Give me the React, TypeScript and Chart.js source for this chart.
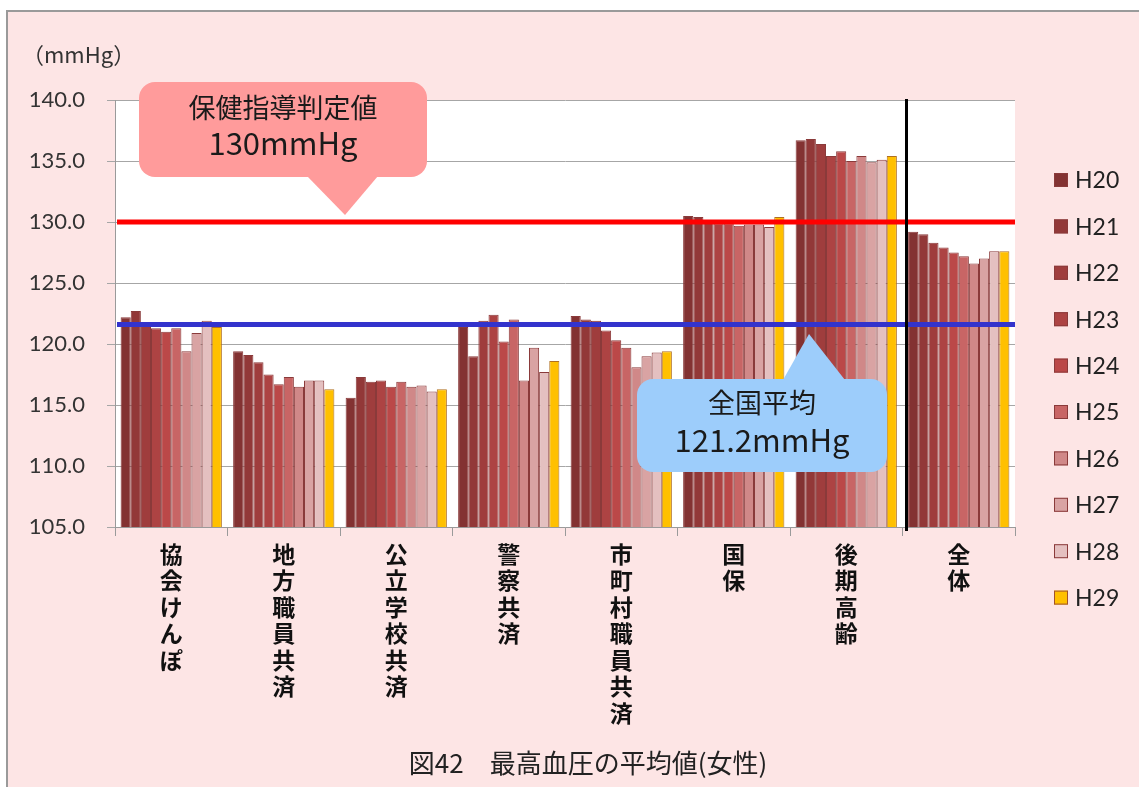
import React, { useEffect, useRef } from 'react';
import { Chart, registerables } from 'chart.js';

Chart.register(...registerables);

// ---- data ----
const categories: string[][] = [
  ['協', '会', 'け', 'ん', 'ぽ'],
  ['地', '方', '職', '員', '共', '済'],
  ['公', '立', '学', '校', '共', '済'],
  ['警', '察', '共', '済'],
  ['市', '町', '村', '職', '員', '共', '済'],
  ['国', '保'],
  ['後', '期', '高', '齢'],
  ['全', '体'],
];

const seriesNames = ['H20', 'H21', 'H22', 'H23', 'H24', 'H25', 'H26', 'H27', 'H28', 'H29'];
const seriesColors = ['#833232', '#923838', '#9f3d3d', '#ad4343', '#bb4848', '#c86565', '#d08888', '#d9a3a3', '#e4c0c0', '#ffc000'];

const H20 = [122.2, 119.4, 115.6, 121.4, 122.3, 130.5, 136.7, 129.2];
const H21 = [122.7, 119.1, 117.3, 119.0, 122.0, 130.4, 136.8, 129.0];
const H22 = [121.6, 118.5, 116.9, 121.9, 121.9, 130.0, 136.4, 128.3];
const H23 = [121.3, 117.5, 117.0, 122.4, 121.1, 129.9, 135.4, 127.9];
const H24 = [121.0, 116.7, 116.5, 120.2, 120.3, 129.9, 135.8, 127.5];
const H25 = [121.3, 117.3, 116.9, 122.0, 119.7, 129.7, 135.0, 127.2];
const H26 = [119.4, 116.5, 116.5, 117.0, 118.1, 129.8, 135.4, 126.6];
const H27 = [120.9, 117.0, 116.6, 119.7, 119.0, 129.8, 134.9, 127.0];
const H28 = [121.9, 117.0, 116.1, 117.7, 119.3, 129.6, 135.1, 127.6];
const H29 = [121.4, 116.3, 116.3, 118.6, 119.4, 130.4, 135.4, 127.6];
const seriesValues = [H20, H21, H22, H23, H24, H25, H26, H27, H28, H29];

const yMin = 105;
const yMax = 140;
const yStep = 5;

const guidanceLine = 130; // 保健指導判定値
const nationalLine = 121.6; // drawn position of 全国平均 line
const guidanceText = ['保健指導判定値', '130mmHg'];
const nationalText = ['全国平均', '121.2mmHg'];
const unitText = '（mmHg）';
const titleText = '図42　最高血圧の平均値(女性)';

const JP = '"Noto Sans CJK JP", "Noto Sans", sans-serif';
const LAT = 'Lato, "Noto Sans", sans-serif';

function callout(
  ctx: CanvasRenderingContext2D,
  x: number, y: number, w: number, h: number, r: number,
  tri: [number, number][], color: string
) {
  ctx.save();
  ctx.fillStyle = color;
  ctx.beginPath();
  ctx.roundRect(x, y, w, h, r);
  ctx.fill();
  ctx.beginPath();
  ctx.moveTo(tri[0][0], tri[0][1]);
  ctx.lineTo(tri[1][0], tri[1][1]);
  ctx.lineTo(tri[2][0], tri[2][1]);
  ctx.closePath();
  ctx.fill();
  ctx.restore();
}

const overlayPlugin = {
  id: 'overlay',
  beforeDraw(chart: any) {
    const { ctx, chartArea } = chart;
    ctx.save();
    ctx.fillStyle = '#ffffff';
    ctx.fillRect(chartArea.left, chartArea.top, chartArea.right - chartArea.left, chartArea.bottom - chartArea.top);
    ctx.restore();
  },
  afterDraw(chart: any) {
    const { ctx, chartArea, scales } = chart;
    const x = scales.x;
    const y = scales.y;
    ctx.save();

    // reference lines
    const yr = y.getPixelForValue(guidanceLine);
    ctx.strokeStyle = '#ff0000';
    ctx.lineWidth = 5;
    ctx.beginPath();
    ctx.moveTo(chartArea.left + 2, yr);
    ctx.lineTo(chartArea.right, yr);
    ctx.stroke();

    const yb = y.getPixelForValue(nationalLine);
    ctx.strokeStyle = '#3333cc';
    ctx.lineWidth = 5;
    ctx.beginPath();
    ctx.moveTo(chartArea.left + 2, yb);
    ctx.lineTo(chartArea.right, yb);
    ctx.stroke();

    // separator before 全体
    const xs = (x.getPixelForValue(6) + x.getPixelForValue(7)) / 2 + 4;
    ctx.strokeStyle = '#000000';
    ctx.lineWidth = 3;
    ctx.beginPath();
    ctx.moveTo(xs, chartArea.top - 1);
    ctx.lineTo(xs, chartArea.bottom + 4);
    ctx.stroke();

    // callouts
    callout(ctx, 139, 82, 288, 95, 16, [[307, 176], [378, 176], [345, 215]], '#ff9b9b');
    callout(ctx, 637, 379, 250, 93, 16, [[783, 380], [845, 380], [809, 334]], '#9dcdfb');

    ctx.fillStyle = '#1a1a1a';
    ctx.textAlign = 'center';
    ctx.textBaseline = 'middle';
    ctx.font = `27px ${JP}`;
    ctx.fillText(guidanceText[0], 283, 108);
    ctx.font = `31px ${JP}`;
    ctx.fillText(guidanceText[1], 283, 143);
    ctx.font = `27px ${JP}`;
    ctx.fillText(nationalText[0], 762, 403);
    ctx.font = `31px ${JP}`;
    ctx.fillText(nationalText[1], 762, 440);

    // unit label
    ctx.fillStyle = '#333333';
    ctx.textAlign = 'left';
    ctx.font = `22px ${JP}`;
    ctx.fillText(unitText, 22, 55);

    // title
    ctx.textAlign = 'center';
    ctx.font = `26px ${JP}`;
    ctx.fillStyle = '#222222';
    ctx.fillText(titleText, 588, 763);

    // legend
    const ds = chart.data.datasets;
    ctx.textAlign = 'left';
    ctx.font = `23px ${LAT}`;
    ds.forEach((d: any, i: number) => {
      const cy = 180 + i * 46.4;
      ctx.fillStyle = d.backgroundColor;
      ctx.fillRect(1054, cy - 7, 14, 14);
      ctx.strokeStyle = i === 9 ? '#a0522d' : '#8a3a3a';
      ctx.lineWidth = 1;
      ctx.strokeRect(1054.5, cy - 6.5, 13, 13);
      ctx.fillStyle = '#222222';
      ctx.fillText(d.label, 1075, cy + 1);
    });

    ctx.restore();
  },
};

export default function App() {
  const ref = useRef<HTMLCanvasElement | null>(null);

  useEffect(() => {
    if (!ref.current) return;
    const chart = new Chart(ref.current, {
      type: 'bar',
      data: {
        labels: categories as any,
        datasets: seriesNames.map((name, i) => ({
          label: name,
          data: seriesValues[i],
          backgroundColor: seriesColors[i],
          borderColor: i === 9 ? '#b07020' : '#8a3a3a',
          borderWidth: 1,
          categoryPercentage: 0.9,
          barPercentage: 1.0,
        })),
      },
      options: {
        responsive: false,
        animation: false,
        layout: { padding: { top: 100, right: 124, left: 0, bottom: 0 } },
        plugins: {
          legend: { display: false },
          tooltip: { enabled: false },
          title: { display: false },
        },
        scales: {
          x: {
            grid: { offset: true, drawOnChartArea: false, drawTicks: true, tickLength: 9, color: '#9a9a9a' },
            border: { color: '#9a9a9a' },
            ticks: {
              autoSkip: false,
              maxRotation: 0,
              minRotation: 0,
              color: '#111111',
              padding: 5,
              font: { family: JP, size: 23, weight: 'bold', lineHeight: '26.5px' },
            },
            afterFit: (s: any) => { s.height = 260; },
          },
          y: {
            min: yMin,
            max: yMax,
            ticks: {
              stepSize: yStep,
              padding: 22,
              color: '#333333',
              font: { family: LAT, size: 22 },
              callback: (v: any) => Number(v).toFixed(1),
            },
            grid: { color: '#a6a6a6', tickLength: 8 },
            border: { color: '#9a9a9a' },
            afterFit: (s: any) => { s.width = 115; },
          },
        },
      } as any,
      plugins: [overlayPlugin],
    });
    return () => chart.destroy();
  }, []);

  return (
    <div style={{ position: 'fixed', left: 0, top: 0, width: 1139, height: 787, background: '#ffffff', overflow: 'hidden' }}>
      <div style={{ position: 'absolute', left: 6, top: 10, width: 1140, height: 790, background: '#fde5e5', borderLeft: '2px solid #9a9a9a', borderTop: '2px solid #9a9a9a', boxSizing: 'border-box' }} />
      <canvas ref={ref} width={1139} height={787} style={{ position: 'absolute', left: 0, top: 0, display: 'block' }} />
    </div>
  );
}
